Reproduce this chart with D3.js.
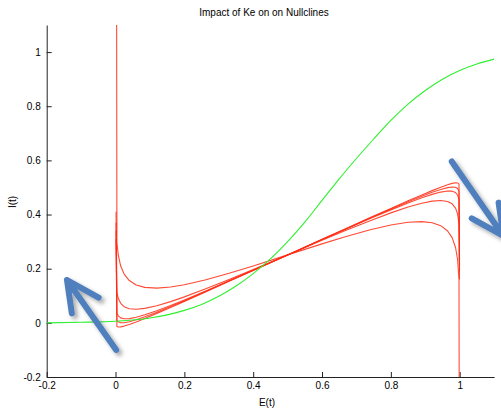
<!DOCTYPE html>
<html>
<head>
<meta charset="utf-8">
<script src="https://cdn.jsdelivr.net/npm/d3@7"></script>
<style>
  html, body { margin: 0; padding: 0; background: #fff; }
  svg { display: block; }
  text { font-family: "Liberation Sans", Arial, Helvetica, sans-serif; fill: #000; }
</style>
</head>
<body>
<svg id="chart" width="501" height="415"></svg>
<script>
// Wilson-Cowan phase plane: I-nullcline (green) and E-nullclines for several Ke (red)

const titleText = "Impact of Ke on on Nullclines";
const xLabel = "E(t)";
const yLabel = "I(t)";

const xTicks = [-0.2, 0, 0.2, 0.4, 0.6, 0.8, 1];
const xTickLabels = ["-0.2", "0", "0.2", "0.4", "0.6", "0.8", "1"];
const yTicks = [-0.2, 0, 0.2, 0.4, 0.6, 0.8, 1];
const yTickLabels = ["-0.2", "0", "0.2", "0.4", "0.6", "0.8", "1"];

// I-nullcline (sigmoid)
const greenE = [-0.2, -0.1, 0, 0.1, 0.2, 0.25, 0.3, 0.35, 0.4, 0.45, 0.5, 0.55,
                0.6, 0.65, 0.7, 0.75, 0.8, 0.85, 0.9, 0.95, 1.0, 1.05, 1.1];
const greenI = [0.0, 0.002, 0.006, 0.018, 0.046, 0.068, 0.098, 0.136, 0.182, 0.236, 0.300, 0.372,
                0.452, 0.532, 0.607, 0.679, 0.748, 0.808, 0.858, 0.900, 0.932, 0.956, 0.974];

// E-nullclines sampled on a common E grid, one array per Ke value
const nullE = [0.0015, 0.004, 0.008, 0.015, 0.025, 0.04, 0.06, 0.085, 0.12, 0.16, 0.2, 0.26,
               0.33, 0.4, 0.5, 0.6, 0.67, 0.74, 0.8, 0.85, 0.89, 0.92, 0.945, 0.965, 0.978,
               0.988, 0.994, 0.998, 0.9995];
const keCurve1 = [0.31, -0.0135, -0.0153, -0.0149, -0.012, -0.0059, 0.0035, 0.0163, 0.035, 0.057,
                  0.0793, 0.1133, 0.1532, 0.1934, 0.251, 0.3086, 0.3488, 0.3887, 0.4227, 0.4506,
                  0.4725, 0.4883, 0.5009, 0.5101, 0.515, 0.5173, 0.5167, 0.5125, 0.23];
const keCurve2 = [0.34, 0.0097, 0.0038, 0.0005, 0.0005, 0.0039, 0.0112, 0.0222, 0.0393, 0.0601,
                  0.0816, 0.1148, 0.1541, 0.1939, 0.251, 0.3081, 0.3479, 0.3872, 0.4204, 0.4472,
                  0.4677, 0.4821, 0.4928, 0.4995, 0.5019, 0.5007, 0.496, 0.4852, 0.21];
const keCurve3 = [0.37, 0.0362, 0.0258, 0.0184, 0.0152, 0.0157, 0.0206, 0.0296, 0.0449, 0.0642,
                  0.0848, 0.1169, 0.1554, 0.1945, 0.251, 0.3075, 0.3466, 0.3851, 0.4172, 0.4427,
                  0.4617, 0.4744, 0.4829, 0.4869, 0.4863, 0.4813, 0.4722, 0.4541, 0.19];
const keCurve4 = [0.41, 0.1139, 0.0908, 0.0721, 0.0598, 0.0521, 0.0501, 0.0534, 0.0633, 0.0784,
                  0.0959, 0.1246, 0.1602, 0.1972, 0.251, 0.3048, 0.3418, 0.3774, 0.4061, 0.4276,
                  0.4419, 0.4496, 0.452, 0.4482, 0.4395, 0.4235, 0.4018, 0.3637, 0.16];
const keCurve5 = [3.0, 0.2962, 0.2498, 0.2099, 0.1801, 0.1562, 0.1401, 0.1309, 0.1281, 0.1323,
                  0.1408, 0.1584, 0.1831, 0.2103, 0.251, 0.2917, 0.3189, 0.3436, 0.3612, 0.3713,
                  0.3739, 0.3699, 0.3589, 0.3394, 0.3148, 0.2782, 0.233, 0.1581, -1.0];
const keCurves = [keCurve1, keCurve2, keCurve3, keCurve4, keCurve5];

// direction arrows (data units): tail, tip, two barb ends
const arrows = [
  { tail: [0.002, -0.100], tip: [-0.141, 0.158], barbs: [[-0.127, 0.035], [-0.049, 0.093]] },
  { tail: [0.977, 0.596], tip: [1.127, 0.321], barbs: [[1.113, 0.444], [1.035, 0.386]] }
];

const W = 501, H = 415;
const margin = { left: 46.7, right: 6.9, top: 25, bottom: 38 };
const svg = d3.select("#chart");

const x = d3.scaleLinear().domain([-0.2, 1.1]).range([margin.left, W - margin.right]);
const y = d3.scaleLinear().domain([-0.2, 1.1]).range([H - margin.bottom, margin.top]);

const defs = svg.append("defs");
defs.append("clipPath").attr("id", "plotClip")
  .append("rect")
  .attr("x", x(-0.2)).attr("y", y(1.1))
  .attr("width", x(1.1) - x(-0.2)).attr("height", y(-0.2) - y(1.1));

const shadow = defs.append("filter").attr("id", "arrowShadow")
  .attr("x", "-30%").attr("y", "-30%").attr("width", "160%").attr("height", "160%");
shadow.append("feDropShadow")
  .attr("dx", 3).attr("dy", 3).attr("stdDeviation", 2.2)
  .attr("flood-color", "#000").attr("flood-opacity", 0.35);

// axes (ticks pointing inward, no box)
const xAxis = d3.axisBottom(x).tickValues(xTicks)
  .tickFormat((d, i) => xTickLabels[i]).tickSize(-5).tickSizeOuter(0).tickPadding(5);
const yAxis = d3.axisLeft(y).tickValues(yTicks)
  .tickFormat((d, i) => yTickLabels[i]).tickSize(-5).tickSizeOuter(0).tickPadding(6);

const gx = svg.append("g").attr("transform", `translate(0,${y(-0.2)})`).call(xAxis);
const gy = svg.append("g").attr("transform", `translate(${x(-0.2)},0)`).call(yAxis);
[gx, gy].forEach(g => {
  g.selectAll("path.domain").attr("stroke", "#222").attr("stroke-width", 1);
  g.selectAll(".tick line").attr("stroke", "#222").attr("stroke-width", 1);
  g.selectAll(".tick text").attr("font-size", 10)
    .attr("font-family", "'Liberation Sans', Arial, sans-serif").attr("fill", "#000");
});

// curves
const plot = svg.append("g").attr("clip-path", "url(#plotClip)");
const line = d3.line().x(d => x(d[0])).y(d => y(d[1]));

keCurves.forEach(vals => {
  plot.append("path")
    .datum(nullE.map((e, i) => [e, vals[i]]))
    .attr("fill", "none")
    .attr("stroke", "#ff2a12")
    .attr("stroke-opacity", 0.85)
    .attr("stroke-width", 1.1)
    .attr("stroke-linejoin", "round")
    .attr("d", line);
});

plot.append("path")
  .datum(greenE.map((e, i) => [e, greenI[i]]))
  .attr("fill", "none")
  .attr("stroke", "#2ef02e")
  .attr("stroke-width", 1.1)
  .attr("d", d3.line().x(d => x(d[0])).y(d => y(d[1])).curve(d3.curveMonotoneX));

// text
svg.append("text").attr("x", 264).attr("y", 16).attr("text-anchor", "middle")
  .attr("font-size", 10).text(titleText);
svg.append("text").attr("x", 267).attr("y", 406).attr("text-anchor", "middle")
  .attr("font-size", 10).text(xLabel);
svg.append("text").attr("transform", "translate(16,202) rotate(-90)")
  .attr("text-anchor", "middle").attr("font-size", 10).text(yLabel);

// arrows
const arrowG = svg.append("g").attr("filter", "url(#arrowShadow)");
arrows.forEach(a => {
  const p = d => [x(d[0]), y(d[1])];
  const path = d3.path();
  path.moveTo(...p(a.tail)); path.lineTo(...p(a.tip));
  path.moveTo(...p(a.barbs[0])); path.lineTo(...p(a.tip)); path.lineTo(...p(a.barbs[1]));
  arrowG.append("path")
    .attr("d", path.toString())
    .attr("fill", "none")
    .attr("stroke", "#4f7fbd")
    .attr("stroke-width", 6)
    .attr("stroke-linecap", "round")
    .attr("stroke-linejoin", "round");
});
</script>
</body>
</html>
